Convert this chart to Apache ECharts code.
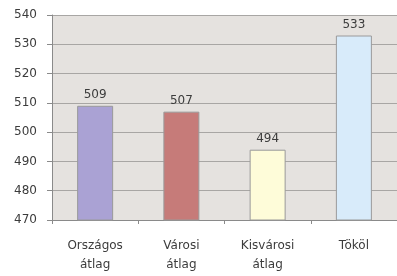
<!DOCTYPE html>
<html>
<head>
<meta charset="utf-8">
<script src="https://cdn.jsdelivr.net/npm/echarts@6/dist/echarts.min.js"></script>
<style>
  html, body { margin: 0; padding: 0; background: #fff; }
  #chart { width: 397px; height: 276px; }
</style>
</head>
<body>
<div id="chart"></div>
<script>
  // adatok
  const categories = ['Országos\nátlag', 'Városi\nátlag', 'Kisvárosi\nátlag', 'Tököl']
  const values = [509, 507, 494, 533]
  const barColors = ['#aaa2d4', '#c67b79', '#fefcd9', '#d8ebfa']

  const font = 'DejaVu Sans, Verdana, sans-serif'
  const myChart = echarts.init(document.getElementById('chart'))
  const option = {
    animation: false,
    grid: {
      left: 52,
      top: 15,
      width: 348,
      height: 205,
      show: true,
      backgroundColor: '#e5e2df',
      borderWidth: 0
    },
    xAxis: {
      type: 'category',
      data: categories,
      axisLine: { lineStyle: { color: '#8a8a8a', width: 1 } },
      axisTick: { show: true, length: 4, lineStyle: { color: '#8a8a8a' } },
      axisLabel: {
        color: '#3c3c3c',
        fontFamily: font,
        fontSize: 12,
        lineHeight: 19,
        margin: 16
      }
    },
    yAxis: {
      type: 'value',
      min: 470,
      max: 540,
      interval: 10,
      axisLine: { show: true, lineStyle: { color: '#8a8a8a', width: 1 } },
      axisTick: { show: true, length: 5, lineStyle: { color: '#8a8a8a' } },
      splitLine: { lineStyle: { color: '#a8a6a4', width: 1 } },
      axisLabel: {
        color: '#3c3c3c',
        fontFamily: font,
        fontSize: 12,
        margin: 15
      }
    },
    series: [
      {
        type: 'bar',
        data: values.map((v, i) => ({
          value: v,
          itemStyle: { color: barColors[i] }
        })),
        barWidth: 36,
        itemStyle: { borderColor: '#9a9a9a', borderWidth: 1 },
        label: {
          show: true,
          position: 'top',
          distance: 5,
          color: '#3c3c3c',
          fontFamily: font,
          fontSize: 12
        }
      }
    ]
  }
  myChart.setOption(option)
</script>
</body>
</html>
